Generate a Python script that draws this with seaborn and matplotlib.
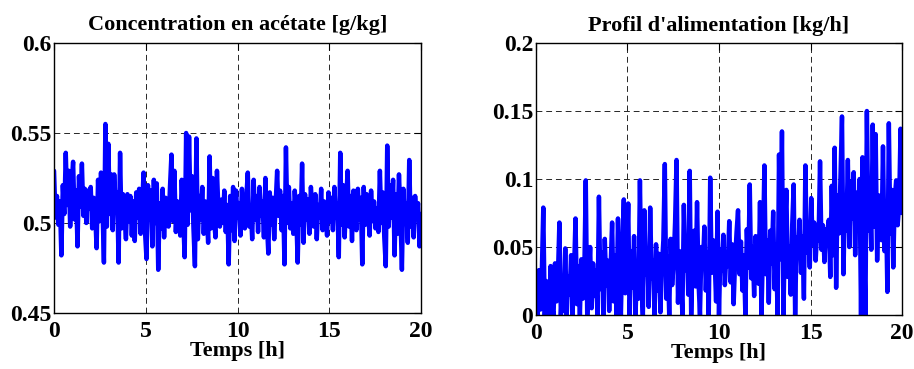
"""Two noisy time series side by side: acetate concentration and feed profile."""
import matplotlib
matplotlib.use("Agg")
import matplotlib.pyplot as plt
import numpy as np
import seaborn as sns

# sampling grid (h)
n_points = 251
temps = np.linspace(0, 20, n_points)

# acetate concentration [g/kg]
acetate = [
    0.529, 0.503, 0.515, 0.499, 0.512, 0.482, 0.521, 0.505, 0.539, 0.510,
    0.529, 0.498, 0.522, 0.534, 0.502, 0.518, 0.487, 0.526, 0.509, 0.533,
    0.504, 0.519, 0.500, 0.518, 0.508, 0.520, 0.497, 0.514, 0.506, 0.486,
    0.524, 0.501, 0.528, 0.509, 0.478, 0.555, 0.498, 0.544, 0.505, 0.527,
    0.496, 0.527, 0.509, 0.517, 0.478, 0.539, 0.497, 0.516, 0.504, 0.491,
    0.516, 0.501, 0.515, 0.493, 0.512, 0.490, 0.517, 0.503, 0.519, 0.494,
    0.509, 0.528, 0.495, 0.480, 0.521, 0.502, 0.518, 0.487, 0.524, 0.500,
    0.522, 0.474, 0.511, 0.497, 0.519, 0.492, 0.514, 0.505, 0.498, 0.520,
    0.538, 0.501, 0.529, 0.495, 0.512, 0.507, 0.493, 0.524, 0.503, 0.481,
    0.550, 0.499, 0.548, 0.507, 0.526, 0.497, 0.476, 0.547, 0.491, 0.515,
    0.502, 0.520, 0.494, 0.512, 0.506, 0.489, 0.537, 0.497, 0.525, 0.502,
    0.492, 0.529, 0.507, 0.498, 0.513, 0.500, 0.518, 0.495, 0.510, 0.477,
    0.515, 0.496, 0.520, 0.490, 0.518, 0.503, 0.511, 0.493, 0.519, 0.505,
    0.497, 0.514, 0.528, 0.498, 0.509, 0.491, 0.524, 0.502, 0.515, 0.495,
    0.520, 0.504, 0.512, 0.492, 0.525, 0.500, 0.483, 0.517, 0.499, 0.514,
    0.491, 0.511, 0.529, 0.504, 0.518, 0.496, 0.515, 0.477, 0.542, 0.500,
    0.520, 0.497, 0.511, 0.494, 0.518, 0.505, 0.478, 0.515, 0.499, 0.533,
    0.489, 0.516, 0.502, 0.513, 0.494, 0.520, 0.507, 0.498, 0.516, 0.491,
    0.510, 0.503, 0.519, 0.496, 0.512, 0.508, 0.493, 0.517, 0.501, 0.514,
    0.496, 0.520, 0.503, 0.511, 0.481, 0.539, 0.499, 0.521, 0.492, 0.512,
    0.529, 0.498, 0.515, 0.490, 0.518, 0.506, 0.496, 0.519, 0.502, 0.514,
    0.477, 0.520, 0.499, 0.516, 0.505, 0.493, 0.518, 0.501, 0.512, 0.497,
    0.508, 0.495, 0.529, 0.500, 0.517, 0.492, 0.476, 0.543, 0.498, 0.521,
    0.503, 0.524, 0.482, 0.516, 0.494, 0.527, 0.505, 0.474, 0.519, 0.500,
    0.511, 0.489, 0.535, 0.498, 0.514, 0.492, 0.515, 0.503, 0.511, 0.487,
    0.505,
]

# feed profile [kg/h]
feed = [
    0.022, 0.000, 0.033, 0.004, 0.031, 0.079, 0.000, 0.025, 0.012, 0.000,
    0.036, 0.006, 0.000, 0.038, 0.010, 0.029, 0.068, 0.000, 0.021, 0.003,
    0.049, 0.000, 0.028, 0.015, 0.044, 0.000, 0.032, 0.071, 0.008, 0.036,
    0.000, 0.041, 0.012, 0.030, 0.099, 0.000, 0.026, 0.050, 0.005, 0.038,
    0.014, 0.033, 0.000, 0.087, 0.019, 0.046, 0.000, 0.056, 0.022, 0.040,
    0.003, 0.036, 0.068, 0.010, 0.044, 0.000, 0.071, 0.025, 0.000, 0.052,
    0.085, 0.016, 0.039, 0.082, 0.000, 0.047, 0.020, 0.058, 0.000, 0.035,
    0.012, 0.099, 0.024, 0.000, 0.077, 0.030, 0.048, 0.006, 0.079, 0.027,
    0.040, 0.000, 0.052, 0.018, 0.045, 0.002, 0.036, 0.055, 0.111, 0.012,
    0.043, 0.000, 0.056, 0.022, 0.038, 0.068, 0.114, 0.009, 0.047, 0.030,
    0.000, 0.081, 0.033, 0.058, 0.015, 0.106, 0.000, 0.044, 0.062, 0.021,
    0.083, 0.025, 0.000, 0.050, 0.035, 0.065, 0.018, 0.046, 0.000, 0.101,
    0.031, 0.055, 0.042, 0.010, 0.076, 0.000, 0.048, 0.033, 0.059, 0.022,
    0.045, 0.036, 0.069, 0.024, 0.052, 0.008, 0.040, 0.061, 0.077, 0.030,
    0.054, 0.018, 0.044, 0.000, 0.063, 0.035, 0.096, 0.027, 0.050, 0.014,
    0.058, 0.040, 0.023, 0.083, 0.000, 0.047, 0.110, 0.030, 0.055, 0.009,
    0.062, 0.038, 0.076, 0.019, 0.052, 0.000, 0.118, 0.041, 0.135, 0.000,
    0.060, 0.092, 0.028, 0.050, 0.015, 0.066, 0.096, 0.000, 0.057, 0.043,
    0.070, 0.031, 0.058, 0.012, 0.110, 0.046, 0.064, 0.035, 0.086, 0.052,
    0.068, 0.040, 0.061, 0.055, 0.113, 0.048, 0.066, 0.039, 0.063, 0.058,
    0.070, 0.028, 0.095, 0.044, 0.123, 0.020, 0.088, 0.060, 0.102, 0.146,
    0.030, 0.085, 0.062, 0.114, 0.050, 0.098, 0.071, 0.105, 0.044, 0.090,
    0.068, 0.100, 0.000, 0.116, 0.058, 0.000, 0.150, 0.062, 0.090, 0.048,
    0.140, 0.065, 0.133, 0.040, 0.088, 0.072, 0.055, 0.124, 0.047, 0.083,
    0.017, 0.141, 0.060, 0.092, 0.035, 0.085, 0.099, 0.066, 0.080, 0.137,
    0.075,
]

titles = ["Concentration en acétate [g/kg]", "Profil d'alimentation [kg/h]"]
xlabel = "Temps [h]"
x_ticks = [0, 5, 10, 15, 20]
y_ticks = [[0.45, 0.5, 0.55, 0.6], [0, 0.05, 0.1, 0.15, 0.2]]
y_ticklabels = [["0.45", "0.5", "0.55", "0.6"], ["0", "0.05", "0.1", "0.15", "0.2"]]

sns.set_theme(style="white", rc={
    "axes.edgecolor": "black", "axes.linewidth": 1.0,
    "axes.labelcolor": "black", "text.color": "black",
    "xtick.direction": "in", "ytick.direction": "in",
    "xtick.top": True, "ytick.right": True,
    "xtick.major.size": 5, "ytick.major.size": 5,
    "xtick.color": "black", "ytick.color": "black",
})
plt.rcParams["font.family"] = ["Liberation Serif", "DejaVu Serif"]
plt.rcParams["font.weight"] = "bold"

fig = plt.figure(figsize=(9.14, 3.69), dpi=100)
ax_l = fig.add_axes([0.0591, 0.1518, 0.4015, 0.7317])
ax_r = fig.add_axes([0.5864, 0.1463, 0.4005, 0.7371])

for i, (ax, series) in enumerate(zip([ax_l, ax_r], [acetate, feed])):
    sns.lineplot(x=temps, y=series, ax=ax, color="#0000ff", linewidth=3.2,
                 estimator=None, sort=False)
    ax.set_xlim(0, 20)
    ax.set_ylim(y_ticks[i][0], y_ticks[i][-1])
    ax.set_xticks(x_ticks)
    ax.set_xticklabels([str(v) for v in x_ticks], fontsize=17, fontweight="bold")
    ax.set_yticks(y_ticks[i])
    ax.set_yticklabels(y_ticklabels[i], fontsize=17, fontweight="bold")
    ax.tick_params(axis="x", pad=6, width=0.8)
    ax.tick_params(axis="y", pad=2, width=0.8)
    ax.grid(True, color="0.15", linestyle=(0, (6, 4)), linewidth=0.7)
    ax.set_axisbelow(True)
    ax.set_title(titles[i], fontsize=16, fontweight="bold", pad=9)
    ax.set_xlabel(xlabel, fontsize=16, fontweight="bold", labelpad=-1)
    ax.set_ylabel("")
    for sp in ax.spines.values():
        sp.set_visible(True)
        sp.set_zorder(5)

fig.savefig("out.png", dpi=100)
